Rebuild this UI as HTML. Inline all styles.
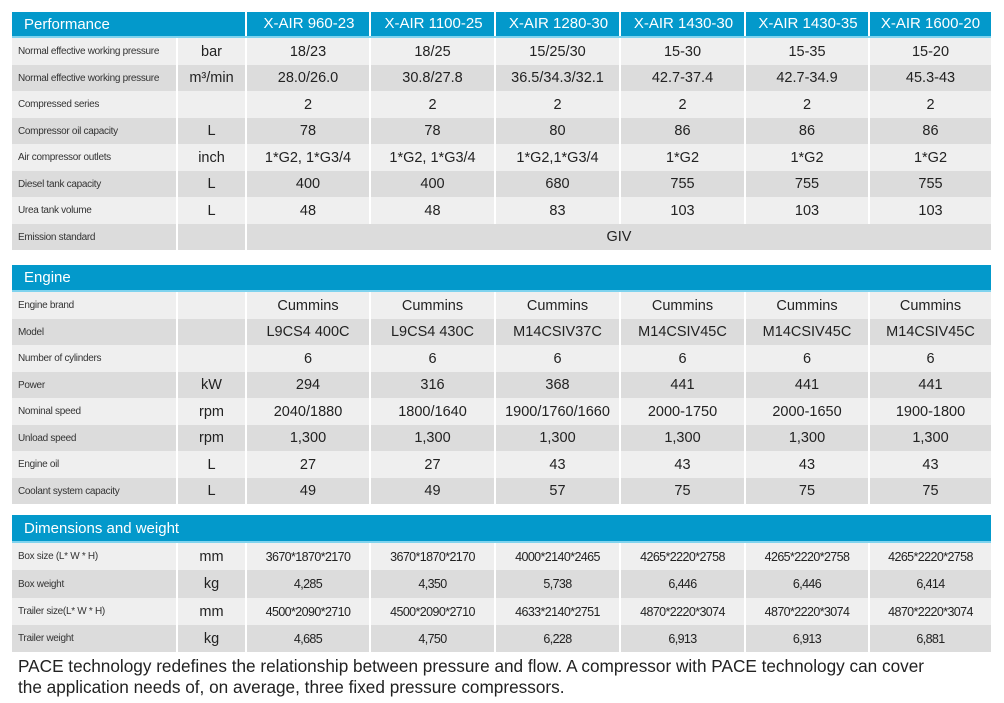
<!DOCTYPE html>
<html><head><meta charset="utf-8">
<style>
body{margin:0;width:1004px;height:703px;background:#fff;position:relative;overflow:hidden;font-family:"Liberation Sans","DejaVu Sans",sans-serif;}
.c{position:absolute;display:flex;align-items:center;justify-content:center;color:#222;font-size:14.5px;box-sizing:border-box;white-space:nowrap;}
.lab{justify-content:flex-start;padding-left:6px;font-size:10px;letter-spacing:-0.3px;color:#333;}
.hd{position:absolute;background:#0399cb;color:#fff;font-size:15px;display:flex;align-items:center;box-sizing:border-box;border-bottom:2px solid #7fd3ee;}
.nar{font-size:12.5px;letter-spacing:-0.6px;}
.note{position:absolute;left:18px;font-size:17.2px;color:#222;white-space:nowrap;}
</style></head><body>
<div id="root"></div>
<div class="note" style="top:656px">PACE technology redefines the relationship between pressure and flow. A compressor with PACE technology can cover</div>
<div class="note" style="top:677px">the application needs of, on average, three fixed pressure compressors.</div>
<script>
const models=["X-AIR 960-23","X-AIR 1100-25","X-AIR 1280-30","X-AIR 1430-30","X-AIR 1430-35","X-AIR 1600-20"];
const perfRows=[
["Normal effective working pressure","bar",["18/23","18/25","15/25/30","15-30","15-35","15-20"]],
["Normal effective working pressure","m³/min",["28.0/26.0","30.8/27.8","36.5/34.3/32.1","42.7-37.4","42.7-34.9","45.3-43"]],
["Compressed series","",["2","2","2","2","2","2"]],
["Compressor oil capacity","L",["78","78","80","86","86","86"]],
["Air compressor outlets","inch",["1*G2, 1*G3/4","1*G2, 1*G3/4","1*G2,1*G3/4","1*G2","1*G2","1*G2"]],
["Diesel tank capacity","L",["400","400","680","755","755","755"]],
["Urea tank volume","L",["48","48","83","103","103","103"]],
["Emission standard","",["GIV"]]];
const engRows=[
["Engine brand","",["Cummins","Cummins","Cummins","Cummins","Cummins","Cummins"]],
["Model","",["L9CS4 400C","L9CS4 430C","M14CSIV37C","M14CSIV45C","M14CSIV45C","M14CSIV45C"]],
["Number of cylinders","",["6","6","6","6","6","6"]],
["Power","kW",["294","316","368","441","441","441"]],
["Nominal speed","rpm",["2040/1880","1800/1640","1900/1760/1660","2000-1750","2000-1650","1900-1800"]],
["Unload speed","rpm",["1,300","1,300","1,300","1,300","1,300","1,300"]],
["Engine oil","L",["27","27","43","43","43","43"]],
["Coolant system capacity","L",["49","49","57","75","75","75"]]];
const dimRows=[
["Box size (L* W * H)","mm",["3670*1870*2170","3670*1870*2170","4000*2140*2465","4265*2220*2758","4265*2220*2758","4265*2220*2758"]],
["Box weight","kg",["4,285","4,350","5,738","6,446","6,446","6,414"]],
["Trailer size(L* W * H)","mm",["4500*2090*2710","4500*2090*2710","4633*2140*2751","4870*2220*3074","4870*2220*3074","4870*2220*3074"]],
["Trailer weight","kg",["4,685","4,750","6,228","6,913","6,913","6,881"]]];
const root=document.getElementById('root');
const X=[12,178,247,371,496,621,746,870,991];
function cell(x1,x2,y1,y2,txt,cls,bg){
  const d=document.createElement('div');
  d.className='c '+cls;
  d.style.left=(x1)+'px';d.style.width=(x2-x1-2)+'px';
  d.style.top=y1+'px';d.style.height=(y2-y1)+'px';
  d.style.background=bg;
  d.textContent=txt;
  
  
  root.appendChild(d);
}
function header(y1,y2,title,withModels){
  const h=document.createElement('div');
  h.className='hd';
  h.style.left='12px';h.style.width=(991-12)+'px';h.style.top=y1+'px';h.style.height=(y2-y1)+'px';
  
  
  const t=document.createElement('span');
  t.style.position='absolute';t.style.left='12px';
  t.textContent=title;
  h.appendChild(t);
  if(withModels){
    for(let i=0;i<6;i++){
      const m=document.createElement('span');
      m.style.position='absolute';m.style.left=(X[i+2]-12-2)+'px';m.style.width=(X[i+3]-X[i+2])+'px';
      m.style.textAlign='center';m.style.top='0';m.style.bottom='0';m.style.lineHeight=(y2-y1-2)+'px';
      m.style.borderLeft='2px solid #fff';
      m.textContent=models[i];
      
      
      h.appendChild(m);
    }
  }
  root.appendChild(h);
}
function section(rows,y1,y2,narrow){
  const rh=(y2-y1)/rows.length;
  rows.forEach((r,i)=>{
    const a=Math.round(y1+i*rh), b=Math.round(y1+(i+1)*rh);
    const bg=i%2===0?'#efefef':'#dcdcdc';
    cell(X[0],X[1],a,b,r[0],'lab',bg);
    cell(X[1],X[2],a,b,r[1],'',bg);
    if(r[2].length===1){cell(X[2],X[8]+2,a,b,r[2][0],'',bg);}
    else r[2].forEach((v,j)=>cell(X[j+2],X[j+3]+(j===5?2:0),a,b,v,narrow?'nar':'',bg));
  });
}
header(12,38,'Performance',true);
section(perfRows,38,250,false);
header(265,292,'Engine',false);
section(engRows,292,504,false);
header(515,543,'Dimensions and weight',false);
section(dimRows,543,652,true);
</script>
</body></html>
